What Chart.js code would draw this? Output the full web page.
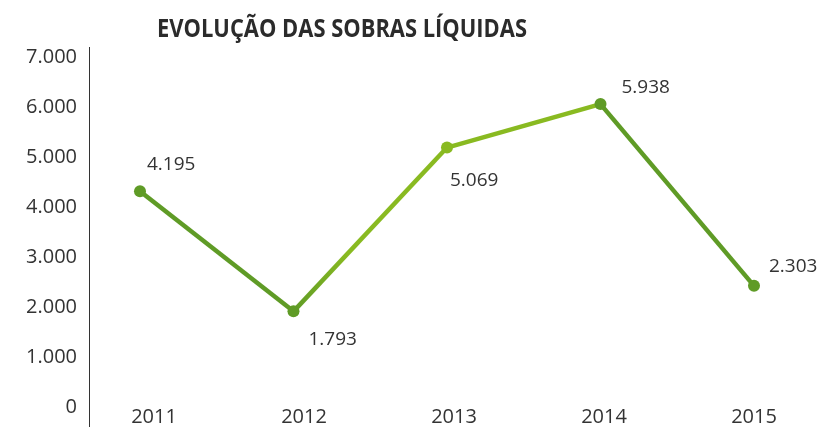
<!DOCTYPE html>
<html>
<head>
<meta charset="utf-8">
<script src="https://cdn.jsdelivr.net/npm/chart.js@4/dist/chart.umd.min.js"></script>
<style>
  html, body { margin: 0; padding: 0; background: #fff; }
  #wrap { width: 823px; height: 427px; }
</style>
</head>
<body>
<div id="wrap"><canvas id="c" width="823" height="427"></canvas></div>
<script>
const title = "EVOLUÇÃO DAS SOBRAS LÍQUIDAS";
const years = ["2011", "2012", "2013", "2014", "2015"];
const sobras = [4195, 1793, 5069, 5938, 2303];
const yTicks = [0, 1000, 2000, 3000, 4000, 5000, 6000, 7000];

const dark = "#5f9b26";
const light = "#89ba21";
const pointColors = [dark, dark, light, dark, dark];
// where each value label sits relative to its point (left edge, baseline)
const labelOffsets = [[7, -21], [15, 34], [3, 38], [21, -11], [15, -14]];

const fmt = (v) => String(Math.round(v)).replace(/\B(?=(\d{3})+(?!\d))/g, ".");

const extras = {
  id: "extras",
  afterDraw(chart) {
    const ctx = chart.ctx;
    const area = chart.chartArea;
    ctx.save();
    // vertical axis line
    ctx.strokeStyle = "#333";
    ctx.lineWidth = 1;
    ctx.beginPath();
    ctx.moveTo(Math.round(area.left) - 0.5, 47);
    ctx.lineTo(Math.round(area.left) - 0.5, 427);
    ctx.stroke();
    // title, squeezed to the condensed width of the original
    ctx.fillStyle = "#2b2b2b";
    ctx.font = "bold 25px 'Open Sans'";
    ctx.textAlign = "center";
    ctx.textBaseline = "alphabetic";
    ctx.fillText(title, 342, 37, 370);
    ctx.restore();
  },
  afterDatasetsDraw(chart) {
    const ctx = chart.ctx;
    const meta = chart.getDatasetMeta(0);
    ctx.save();
    ctx.fillStyle = "#333";
    ctx.font = "19px 'Open Sans'";
    ctx.textAlign = "left";
    ctx.textBaseline = "alphabetic";
    meta.data.forEach((pt, i) => {
      const [dx, dy] = labelOffsets[i];
      ctx.fillText(fmt(sobras[i]), pt.x + dx, pt.y + dy);
    });
    ctx.restore();
  }
};

new Chart(document.getElementById("c"), {
  type: "line",
  data: {
    datasets: [{
      data: years.map((y, i) => ({ x: Number(y), y: sobras[i] })),
      borderWidth: 4.5,
      borderColor: dark,
      pointRadius: 6,
      pointHoverRadius: 6,
      pointBackgroundColor: pointColors,
      pointBorderColor: pointColors,
      pointBorderWidth: 0,
      tension: 0,
      segment: {
        borderColor: (c) => {
          if (c.p0DataIndex === 1) {
            const g = c.chart.ctx.createLinearGradient(c.p0.x, c.p0.y, c.p1.x, c.p1.y);
            g.addColorStop(0, dark);
            g.addColorStop(0.35, light);
            g.addColorStop(1, light);
            return g;
          }
          if (c.p0DataIndex === 2) return light;
          return dark;
        }
      }
    }]
  },
  options: {
    responsive: false,
    animation: false,
    events: [],
    layout: { padding: { top: 51, right: 63, left: 0, bottom: 0 } },
    plugins: { legend: { display: false }, tooltip: { enabled: false }, title: { display: false } },
    scales: {
      x: {
        type: "linear",
        display: false,
        min: 2010.6743,
        max: 2015.0391
      },
      xl: {
        type: "linear",
        position: "bottom",
        min: 2010.5733,
        max: 2015.04,
        grid: { display: false, drawTicks: false },
        border: { display: false },
        afterFit: (s) => { s.height = 26; },
        afterBuildTicks: (s) => { s.ticks = years.map((y) => ({ value: Number(y) })); },
        ticks: {
          padding: 4,
          color: "#333",
          font: { family: "'Open Sans'", size: 20, lineHeight: 1.2 },
          callback: (v) => years[years.indexOf(String(v))]
        }
      },
      y: {
        min: 0,
        max: 7000,
        grid: { display: false, drawTicks: false },
        border: { display: false },
        afterFit: (s) => { s.width = 90; },
        afterBuildTicks: (s) => { s.ticks = yTicks.map((v) => ({ value: v })); },
        ticks: {
          padding: 13,
          color: "#333",
          labelOffset: 6,
          font: { family: "'Open Sans'", size: 20 },
          callback: (v) => fmt(v)
        }
      }
    }
  },
  plugins: [extras]
});
</script>
</body>
</html>
